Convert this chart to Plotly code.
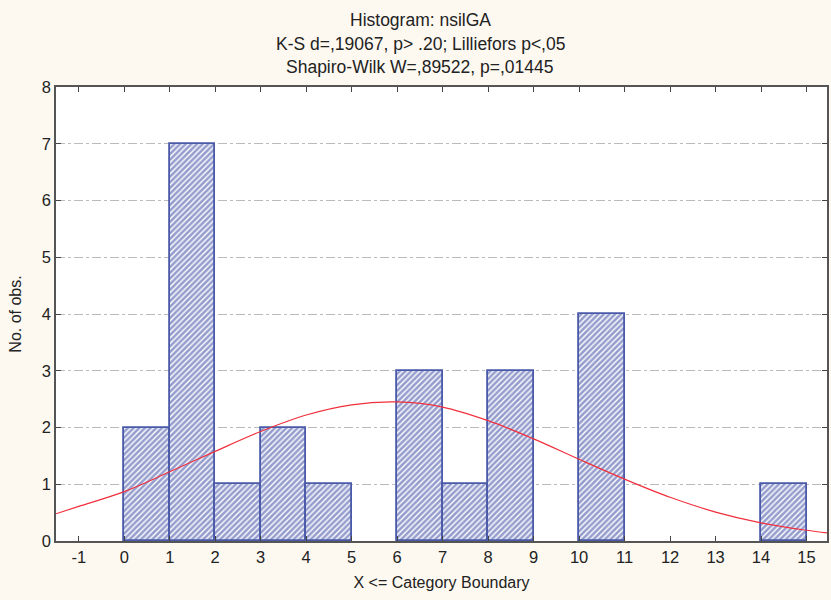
import plotly.graph_objects as go

# Histogram bins (lower boundaries) and counts
bin_left = [0, 1, 2, 3, 4, 5, 6, 7, 8, 9, 10, 11, 12, 13, 14]
counts = [2, 7, 1, 2, 1, 0, 3, 1, 3, 0, 4, 0, 0, 0, 1]

# Expected normal curve
curve_x = [-1.5, -1, 0, 1, 2, 3, 4, 5, 6, 7, 8, 9, 10, 11, 12, 13, 14, 15, 15.5]
curve_y = [0.48, 0.61, 0.87, 1.22, 1.58, 1.93, 2.22, 2.40, 2.45, 2.36, 2.12, 1.80,
           1.44, 1.09, 0.77, 0.51, 0.32, 0.19, 0.14]

x_ticks = list(range(-1, 16))
y_ticks = list(range(0, 9))

title_lines = ["Histogram: nsilGA",
               "K-S d=,19067, p> .20; Lilliefors p<,05",
               "Shapiro-Wilk W=,89522, p=,01445"]

# only draw non-empty bins
bx = [b + 0.5 for b, c in zip(bin_left, counts) if c > 0]
by = [c for c in counts if c > 0]

fig = go.Figure()
fig.add_trace(go.Bar(
    x=bx, y=by, width=[1] * len(bx),
    marker=dict(
        color="white",
        line=dict(color="#4a59a8", width=1.8),
        pattern=dict(shape="/", fgcolor="#2c3c9c", bgcolor="white", size=4, solidity=0.65),
    ),
    showlegend=False,
))
fig.add_trace(go.Scatter(
    x=curve_x, y=curve_y, mode="lines", line=dict(color="#f0303c", width=1.2, shape="spline"),
    showlegend=False,
))

font = dict(family="Liberation Sans, Arial, sans-serif", color="#222222")
plot_top, plot_bottom, plot_left, plot_w = 87, 541, 56, 773
title_py = [20, 44, 67]
annotations = [
    dict(text=t, xref="paper", yref="paper", x=(421 - plot_left) / plot_w,
         y=(plot_bottom - py) / (plot_bottom - plot_top), xanchor="center", yanchor="middle",
         showarrow=False, font=dict(size=17.5, **font))
    for t, py in zip(title_lines, title_py)
]

fig.update_layout(
    width=831, height=600,
    margin=dict(l=56, r=2, t=87, b=59),
    paper_bgcolor="#fdf9f1", plot_bgcolor="white",
    font=dict(size=16, **font),
    annotations=annotations,
    bargap=0,
)
fig.update_xaxes(
    range=[-1.5, 15.45], tickvals=x_ticks, ticktext=[str(v) for v in x_ticks],
    ticks="inside", ticklen=5, tickcolor="#444", showgrid=False, zeroline=False,
    showline=True, linecolor="#555", linewidth=1.5, mirror="ticks",
    tickfont=dict(size=16.5), title=dict(text="X <= Category Boundary", font=dict(size=16), standoff=12),
)
fig.update_yaxes(
    range=[0, 8], tickvals=y_ticks, ticks="inside", ticklen=5, tickcolor="#444",
    showgrid=True, gridcolor="#bbbbbb", griddash="dashdot", gridwidth=1, zeroline=False,
    showline=True, linecolor="#555", linewidth=1.5, mirror="ticks",
    tickfont=dict(size=16.5), title=dict(text="No. of obs.", font=dict(size=16), standoff=16),
)

fig.write_html("out.html")
